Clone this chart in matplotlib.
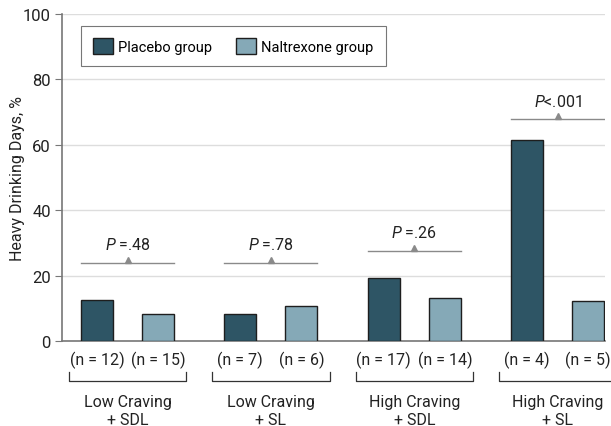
import matplotlib.pyplot as plt
import numpy as np

# data
groups = ['Low Craving\n+ SDL', 'Low Craving\n+ SL', 'High Craving\n+ SDL', 'High Craving\n+ SL']
placebo = [12.5, 8.3, 19.2, 61.5]
naltrexone = [8.3, 10.8, 13.2, 12.3]
n_placebo = [12, 7, 17, 4]
n_naltrexone = [15, 6, 14, 5]
p_labels = [' =.48', ' =.78', ' =.26', '<.001']
p_line_y = [24, 24, 27.6, 67.8]

PLACEBO_C = '#2e5565'
NALTREX_C = '#85a9b7'
GRAY = '#8a8a8a'
TEXT = '#222222'

plt.rcParams['font.family'] = ['Roboto', 'DejaVu Sans']
plt.rcParams['mathtext.fontset'] = 'custom'
plt.rcParams['mathtext.it'] = 'Roboto:italic'
plt.rcParams['mathtext.rm'] = 'Roboto'
plt.rcParams['font.size'] = 11

fig = plt.figure(figsize=(6.11, 4.27), dpi=100)
ax = fig.add_axes([62 / 611, 85 / 427, 543 / 611, 327 / 427])

x = np.arange(len(groups))
off = 0.213
width = 0.223

ax.bar(x - off, placebo, width, color=PLACEBO_C, edgecolor='#1e1e1e', linewidth=1,
       label='Placebo group', zorder=3)
ax.bar(x + off, naltrexone, width, color=NALTREX_C, edgecolor='#1e1e1e', linewidth=1,
       label='Naltrexone group', zorder=3)

ax.set_xlim(-0.457, 3.33)
ax.set_ylim(0, 100)
ax.set_yticks([0, 20, 40, 60, 80, 100])
ax.set_xticks([])
ax.grid(axis='y', color='#dddddd', linewidth=1, zorder=0)
ax.set_axisbelow(True)
for s in ['top', 'right']:
    ax.spines[s].set_visible(False)
ax.spines['left'].set_color('#777777')
ax.spines['bottom'].set_color('#777777')
ax.spines['left'].set_linewidth(1.2)
ax.spines['bottom'].set_linewidth(1.2)
ax.tick_params(axis='y', length=5, color='#777777', labelsize=12, labelcolor=TEXT, pad=3)
ax.set_ylabel('Heavy Drinking Days, %', fontsize=11.5, color=TEXT)
ax.yaxis.set_label_coords(-0.068, 0.5)

# P value annotations
for i in range(len(groups)):
    x0 = x[i] - off - width / 2
    x1 = x[i] + off + width / 2
    ax.plot([x0, x1], [p_line_y[i], p_line_y[i]], color=GRAY, lw=1, zorder=4)
    ax.plot(x[i], p_line_y[i] + 0.9, marker='^', color=GRAY, markersize=5, zorder=4)
    ax.text(x[i], p_line_y[i] + 3.3, r'$P$' + p_labels[i],
            ha='center', va='bottom', fontsize=11.5, color=TEXT)

# n labels, brackets and group labels below the axis
for i in range(len(groups)):
    ax.text(x[i] - off, -5.5, f'(n = {n_placebo[i]})', ha='center', va='center',
            fontsize=11.5, color=TEXT, clip_on=False)
    ax.text(x[i] + off, -5.5, f'(n = {n_naltrexone[i]})', ha='center', va='center',
            fontsize=11.5, color=TEXT, clip_on=False)
    bx0, bx1 = x[i] - 0.41, x[i] + 0.41
    ax.plot([bx0, bx0, bx1, bx1], [-9.6, -12.3, -12.3, -9.6], color='#333333', lw=0.9,
            clip_on=False)
    ax.text(x[i], -21.2, groups[i], ha='center', va='center', fontsize=11.5,
            color=TEXT, linespacing=1.3, clip_on=False)

leg = ax.legend(loc='upper left', bbox_to_anchor=(19 / 543, 0.963), ncol=2,
                frameon=True, fancybox=False, edgecolor='#555555', fontsize=10.5,
                handlelength=1.37, handleheight=1.23, borderpad=0.85, columnspacing=1.6,
                handletextpad=0.35, borderaxespad=0)
leg.get_frame().set_linewidth(0.8)

fig.savefig('out.png', dpi=100, facecolor='white')
